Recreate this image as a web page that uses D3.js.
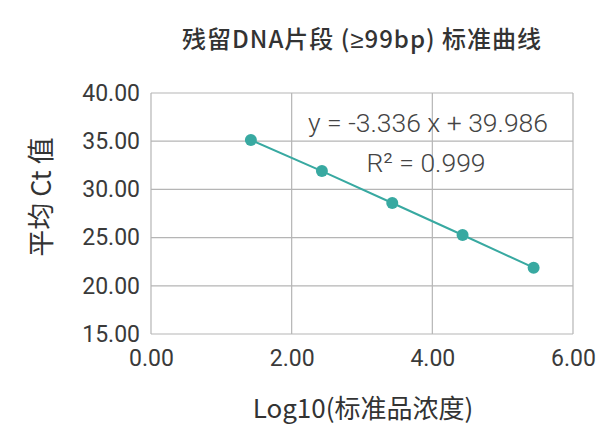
<!DOCTYPE html>
<html>
<head>
<meta charset="utf-8">
<script src="https://cdn.jsdelivr.net/npm/d3@7"></script>
<style>
  body { margin: 0; background: #fff; }
</style>
</head>
<body>
<div id="chart"></div>
<script>
// standard curve data
var logConc = [1.42, 2.43, 3.43, 4.43, 5.44];
var meanCt = [35.12, 31.9, 28.59, 25.27, 21.88];
var xTicks = [0, 2, 4, 6];
var yTicks = [15, 20, 25, 30, 35, 40];

var points = logConc.map(function (d, i) { return { x: d, y: meanCt[i] }; });

var margin = { top: 93, right: 42, bottom: 96, left: 151 },
    width = 615 - margin.left - margin.right,
    height = 430 - margin.top - margin.bottom;

var svg = d3.select("#chart")
    .append("svg")
    .attr("width", 615)
    .attr("height", 430);

var g = svg.append("g")
    .attr("transform", "translate(" + margin.left + "," + margin.top + ")");

var x = d3.scaleLinear().domain([0, 6]).range([0, width]);
var y = d3.scaleLinear().domain([15, 40]).range([height, 0]);

var cjk = "'Noto Sans CJK SC', 'Noto Sans', sans-serif";
var num = "Roboto, 'Noto Sans', sans-serif";
var gridColor = "#b5b5b5";
var teal = "#38a9a1";

// grid lines
g.selectAll(".vgrid")
    .data(xTicks)
    .enter()
    .append("line")
    .attr("x1", function (d) { return x(d); })
    .attr("x2", function (d) { return x(d); })
    .attr("y1", 0)
    .attr("y2", height)
    .attr("stroke", gridColor)
    .attr("stroke-width", 1.2);

g.selectAll(".hgrid")
    .data(yTicks)
    .enter()
    .append("line")
    .attr("x1", 0)
    .attr("x2", width)
    .attr("y1", function (d) { return y(d); })
    .attr("y2", function (d) { return y(d); })
    .attr("stroke", gridColor)
    .attr("stroke-width", 1.2);

// axes (labels only, lines come from the grid)
var xAxis = g.append("g")
    .attr("transform", "translate(0," + height + ")")
    .call(d3.axisBottom(x).tickValues(xTicks).tickFormat(d3.format(".2f")).tickSize(0).tickPadding(16));
var yAxis = g.append("g")
    .call(d3.axisLeft(y).tickValues(yTicks).tickFormat(d3.format(".2f")).tickSize(0).tickPadding(11));

[xAxis, yAxis].forEach(function (a) {
    a.select(".domain").remove();
    a.selectAll("text")
        .style("font-family", num)
        .style("font-size", "23px")
        .style("fill", "#3a3a3a");
});

// line + points
var line = d3.line()
    .x(function (d) { return x(d.x); })
    .y(function (d) { return y(d.y); });

g.append("path")
    .datum(points)
    .attr("d", line)
    .attr("fill", "none")
    .attr("stroke", teal)
    .attr("stroke-width", 2);

g.selectAll("circle")
    .data(points)
    .enter()
    .append("circle")
    .attr("cx", function (d) { return x(d.x); })
    .attr("cy", function (d) { return y(d.y); })
    .attr("r", 6)
    .attr("fill", teal);

// trendline label
g.append("text")
    .attr("x", 277)
    .attr("y", 39)
    .attr("text-anchor", "middle")
    .style("font-family", num)
    .style("font-weight", 300)
    .style("font-size", "26.5px")
    .style("fill", "#444")
    .text("y = -3.336 x + 39.986");

g.append("text")
    .attr("x", 275)
    .attr("y", 79)
    .attr("text-anchor", "middle")
    .style("font-family", num)
    .style("font-weight", 300)
    .style("font-size", "26.5px")
    .style("fill", "#444")
    .text("R² = 0.999");

// titles
var title = svg.append("text")
    .attr("x", 362)
    .attr("y", 48)
    .attr("text-anchor", "middle")
    .style("font-family", cjk)
    .style("font-weight", 500)
    .style("font-size", "24px")
    .style("letter-spacing", "1px")
    .style("fill", "#333");
title.append("tspan").text("残留DNA片段 (");
title.append("tspan").style("font-family", "'Noto Sans', sans-serif").text("≥");
title.append("tspan").text("99bp) 标准曲线");

svg.append("text")
    .attr("x", 363)
    .attr("y", 418)
    .attr("text-anchor", "middle")
    .style("font-family", cjk)
    .style("font-size", "26px")
    .style("fill", "#333")
    .text("Log10(标准品浓度)");

svg.append("text")
    .attr("transform", "translate(51,197) rotate(-90)")
    .attr("text-anchor", "middle")
    .style("font-family", cjk)
    .style("font-size", "27px")
    .style("fill", "#333")
    .text("平均 Ct 值");
</script>
</body>
</html>
